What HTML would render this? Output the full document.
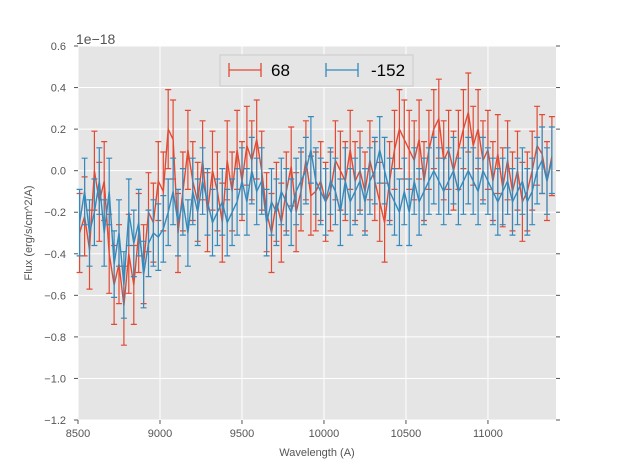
<!DOCTYPE html>
<html><head><meta charset="utf-8"><style>
body{margin:0;background:#fff;font-family:"Liberation Sans",sans-serif}
svg{display:block}
</style></head><body>
<svg id="chart" width="617" height="467" xmlns="http://www.w3.org/2000/svg">
<rect x="78" y="46" width="478" height="374" fill="#e5e5e5"/>
<g id="grid"></g>
<g id="series"></g>
<g id="axes" font-size="11" fill="#555"></g>
<text x="76" y="44" font-size="14" fill="#555">1e−18</text>
<text x="317" y="456" font-size="11" fill="#555" text-anchor="middle">Wavelength (A)</text>
<text x="0" y="0" font-size="11" fill="#555" text-anchor="middle" transform="translate(32,233) rotate(-90)">Flux (erg/s/cm^2/A)</text>
<g>
<rect x="220" y="55" width="193" height="31" fill="#e5e5e5" stroke="#ccc"/>
<g>
<path d="M229 70H261M229 63V77M261 63V77" stroke="#e24a33" stroke-width="1.3" fill="none"/>
<text x="271" y="76" font-size="17" fill="#000">68</text></g>
<g>
<path d="M326 70H358M326 63V77M358 63V77" stroke="#348abd" stroke-width="1.3" fill="none"/>
<text x="371" y="76" font-size="17" fill="#000">-152</text></g>
</g>
</svg>
<script>
const xTicks=[8500,9000,9500,10000,10500,11000];
const yTicks=[0.6,0.4,0.2,0.0,-0.2,-0.4,-0.6,-0.8,-1.0,-1.2];
const yTickLabels=["0.6","0.4","0.2","0.0","−0.2","−0.4","−0.6","−0.8","−1.0","−1.2"];
const wlStart=8510, wlStep=30;
const red=[-0.30,-0.22,-0.38,0.0,-0.15,-0.05,-0.40,-0.55,-0.45,-0.65,-0.40,-0.55,-0.30,-0.45,-0.20,-0.25,-0.05,-0.10,0.20,0.15,-0.30,-0.10,0.10,-0.05,-0.15,0.05,-0.20,0.00,-0.10,-0.25,0.05,-0.10,0.10,-0.05,0.12,0.05,0.15,0.00,-0.20,-0.30,-0.15,-0.25,-0.10,0.02,-0.20,-0.10,0.05,-0.12,-0.10,-0.05,-0.15,-0.10,0.05,0.00,-0.05,0.10,-0.05,0.00,-0.10,0.05,-0.05,-0.15,-0.25,-0.05,0.10,0.20,0.15,0.10,0.05,0.15,-0.05,0.10,0.20,0.25,0.05,0.10,0.00,0.10,0.20,0.28,0.12,0.20,0.05,0.10,-0.05,0.08,-0.08,0.05,-0.10,0.00,-0.15,-0.10,0.00,0.12,0.08,-0.05,0.07];
const blue=[-0.25,-0.10,-0.30,-0.20,-0.05,-0.30,-0.10,-0.45,-0.30,-0.55,-0.20,-0.35,-0.25,-0.50,-0.35,-0.30,-0.32,-0.28,-0.20,-0.10,-0.25,-0.15,-0.30,-0.10,-0.20,-0.05,-0.15,-0.25,-0.20,-0.15,-0.25,-0.20,-0.15,-0.05,-0.15,0.00,-0.10,-0.05,-0.25,-0.15,-0.20,-0.10,-0.15,-0.20,-0.10,-0.05,0.00,0.10,-0.05,-0.10,-0.15,-0.05,-0.10,-0.20,-0.05,-0.15,-0.10,-0.05,-0.15,-0.05,0.00,0.10,0.00,-0.10,-0.15,-0.20,-0.10,-0.20,-0.05,-0.15,-0.10,-0.05,0.00,-0.05,-0.10,-0.05,0.00,-0.10,-0.05,0.00,-0.05,-0.10,0.00,-0.05,-0.10,-0.15,-0.10,-0.05,-0.15,-0.10,-0.05,-0.15,-0.10,0.00,0.05,-0.05,0.05];
const redErr=0.19, blueErr=0.16;
const NS="http://www.w3.org/2000/svg";
const X=w=>78+(w-8500)*478/2915;
const Y=v=>46+(0.6-v)*374/1.8;
function mk(tag,attrs,parent){const e=document.createElementNS(NS,tag);for(const k in attrs)e.setAttribute(k,attrs[k]);parent.appendChild(e);return e;}
const grid=document.getElementById('grid'),axes=document.getElementById('axes'),ser=document.getElementById('series');
xTicks.forEach(t=>{const x=X(t);
 const g=mk('line',{x1:x,x2:x,y1:46,y2:420,stroke:'#fff','stroke-width':1},grid);
 
 
 mk('line',{x1:x,x2:x,y1:420,y2:424,stroke:'#555'},axes);
 const l=mk('text',{x:x,y:437,'text-anchor':'middle'},axes);l.textContent=t;
 
 
});
yTicks.forEach((t,i)=>{const y=Y(t);
 const g=mk('line',{x1:78,x2:556,y1:y,y2:y,stroke:'#fff','stroke-width':1},grid);
 
 
 mk('line',{x1:74,x2:78,y1:y,y2:y,stroke:'#555'},axes);
 mk('line',{x1:556,x2:560,y1:y,y2:y,stroke:'#555'},axes);
 const l=mk('text',{x:66,y:y+4,'text-anchor':'end'},axes);l.textContent=yTickLabels[i];
 
 
});
function draw(vals,err,color,name){
 const g=mk('g',{},ser);
 
 
 let d='',eb='';
 vals.forEach((v,i)=>{const x=X(wlStart+i*wlStep),y=Y(v),y1=Y(v+err),y2=Y(v-err);
  d+=(i?'L':'M')+x.toFixed(1)+' '+y.toFixed(1);
  eb+=`M${x.toFixed(1)} ${y1.toFixed(1)}V${y2.toFixed(1)}M${(x-3).toFixed(1)} ${y1.toFixed(1)}h6M${(x-3).toFixed(1)} ${y2.toFixed(1)}h6`;
 });
 mk('path',{d:eb,stroke:color,'stroke-width':1.2,fill:'none'},g);
 mk('path',{d:d,stroke:color,'stroke-width':1.4,fill:'none'},g);
}
draw(red,redErr,'#e24a33','series-68');
draw(blue,blueErr,'#348abd','series-minus-152');
</script>
</body></html>
